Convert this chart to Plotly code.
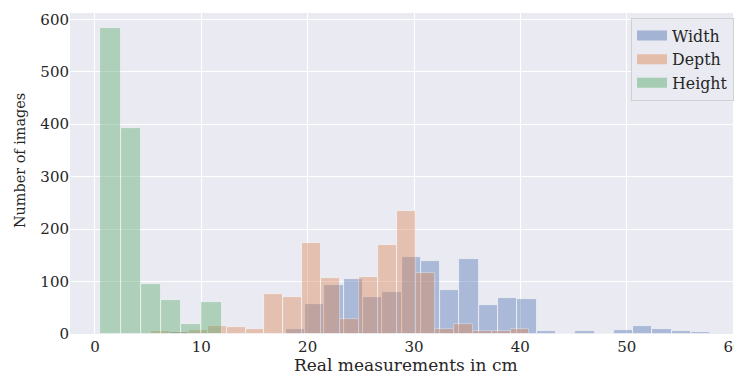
import plotly.graph_objects as go

# Histogram data (bin start, bin width, counts)
width_start = 7.05
width_binw = 1.815
width_counts = [3, 2, 0, 0, 0, 0, 9, 58, 94, 104, 70, 80, 146, 139, 83, 143, 55, 69, 66, 6,
                0, 5, 0, 8, 16, 9, 6, 3]

depth_start = 5.26
depth_binw = 1.78
depth_counts = [5, 3, 7, 15, 13, 10, 76, 71, 174, 107, 28, 108, 170, 234, 116, 9, 20, 5, 5, 10]

height_start = 0.5
height_binw = 1.9
height_counts = [583, 393, 96, 65, 19, 61]

series_names = ["Width", "Depth", "Height"]
colors = ["#4C72B0", "#DD8452", "#55A868"]

x_ticks = [0, 10, 20, 30, 40, 50, 60]
y_ticks = [0, 100, 200, 300, 400, 500, 600]

x_title = "Real measurements in cm"
y_title = "Number of images"

FONT = "DejaVu Serif"
TXT = "#262626"

fig = go.Figure()
series = [(width_start, width_binw, width_counts),
          (depth_start, depth_binw, depth_counts),
          (height_start, height_binw, height_counts)]
for (start, bw, counts), name, col in zip(series, series_names, colors):
    centers = [start + bw * (i + 0.5) for i in range(len(counts))]
    fig.add_trace(go.Bar(
        x=centers, y=counts, width=[bw] * len(counts), name=name,
        marker=dict(color=col, line=dict(color="white", width=0.8)),
        opacity=0.4, showlegend=False, hoverinfo="x+y"))

# legend proxies (wide patches like matplotlib)
for name, col in zip(series_names, colors):
    fig.add_trace(go.Scatter(
        x=[None], y=[None], mode="lines", name=name,
        line=dict(color=col, width=10), opacity=0.45, showlegend=True))

# page body has an 8px margin, so the figure is sized/shifted to compensate
fig.update_layout(
    width=734, height=366,
    margin=dict(l=62, r=1, t=5, b=40, autoexpand=False),
    paper_bgcolor="white", plot_bgcolor="#EAEAF2",
    barmode="overlay", bargap=0,
    font=dict(family=FONT, size=15, color=TXT),
    legend=dict(x=0.9896, y=0.985, xanchor="right", yanchor="top",
                bgcolor="rgba(234,234,242,0.9)", bordercolor="#d0d0d0", borderwidth=1,
                font=dict(family=FONT, size=15.8, color=TXT),
                itemwidth=30, tracegroupgap=0),
    xaxis=dict(range=[-2.35, 60.75], tickvals=x_ticks, showgrid=True, automargin=False,
               gridcolor="white", gridwidth=1.2, zeroline=False, showline=False,
               ticks="", ticklabelstandoff=2, ticklabeloverflow="allow",
               tickfont=dict(family=FONT, size=15, color=TXT)),
    yaxis=dict(range=[0, 612], tickvals=y_ticks, showgrid=True, automargin=False,
               gridcolor="white", gridwidth=1.2, zeroline=False, showline=False,
               ticks="", tickfont=dict(family=FONT, size=15, color=TXT)),
    annotations=[
        dict(text=x_title, xref="paper", yref="paper", x=0.5, y=-0.098,
             xanchor="center", yanchor="middle", showarrow=False,
             font=dict(family=FONT, size=17, color=TXT)),
        dict(text=y_title, xref="paper", yref="paper", x=-0.0745, y=0.539,
             xanchor="center", yanchor="middle", textangle=-90, showarrow=False,
             font=dict(family=FONT, size=14.4, color=TXT)),
    ],
)

fig.write_html("out.html")
